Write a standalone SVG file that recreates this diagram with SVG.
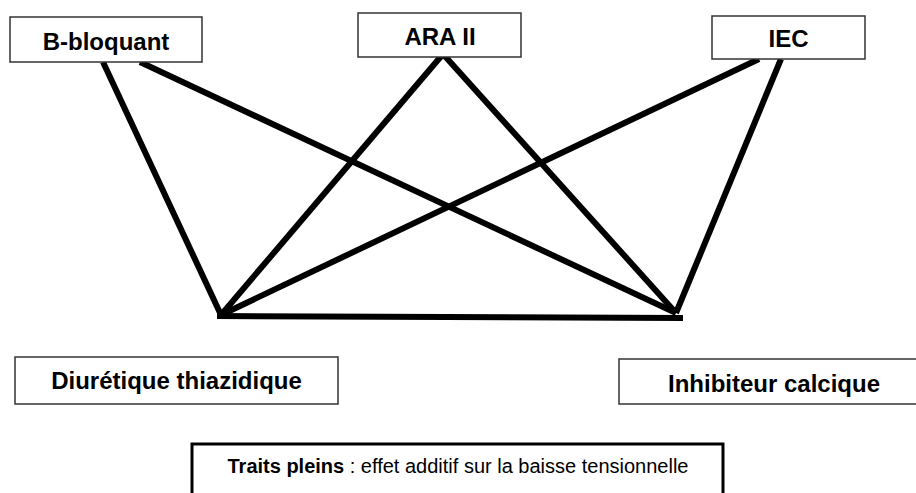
<svg xmlns="http://www.w3.org/2000/svg" width="916" height="493" viewBox="0 0 916 493">
<style>
.box{fill:#fff;stroke:#333;stroke-width:1.5}
.lbl{font-family:"Liberation Sans",Arial,sans-serif;font-weight:bold;font-size:24px;fill:#000;text-anchor:middle}
.edge{stroke:#000;stroke-width:6;stroke-linecap:butt;fill:none}
.foot{font-family:"Liberation Sans",Arial,sans-serif;font-size:20px;fill:#000}
</style>
<rect width="916" height="493" fill="#fff"/>
<g id="connectors">
<line class="edge" x1="103" y1="62" x2="221" y2="315"/>
<line class="edge" x1="140" y1="62" x2="676" y2="313"/>
<line class="edge" x1="443" y1="54" x2="221" y2="315"/>
<line class="edge" x1="443" y1="54" x2="676" y2="313"/>
<line class="edge" x1="759" y1="59" x2="221" y2="315"/>
<line class="edge" x1="781" y1="59" x2="676" y2="313"/>
<line class="edge" x1="217" y1="316" x2="683" y2="318"/>
</g>
<g id="b-bloquant">
<rect class="box" x="10" y="17" width="192" height="45"/>
<text class="lbl" x="106" y="50">B-bloquant</text>
</g>
<g id="ara-ii">
<rect class="box" x="358" y="13" width="163" height="44"/>
<text class="lbl" x="440" y="45">ARA II</text>
</g>
<g id="iec">
<rect class="box" x="712" y="16" width="153" height="43"/>
<text class="lbl" x="788.5" y="47">IEC</text>
</g>
<g id="diuretique">
<rect class="box" x="15" y="357" width="323" height="47"/>
<text class="lbl" x="176.5" y="389">Diurétique thiazidique</text>
</g>
<g id="inhibiteur">
<rect class="box" x="619" y="359" width="310" height="45"/>
<text class="lbl" x="774" y="392">Inhibiteur calcique</text>
</g>
<g id="legend">
<rect x="192" y="444" width="531" height="60" fill="#fff" stroke="#000" stroke-width="3"/>
<text class="foot" x="458" y="473" text-anchor="middle"><tspan font-weight="bold">Traits pleins</tspan> : effet additif sur la baisse tensionnelle</text>
</g>
</svg>
